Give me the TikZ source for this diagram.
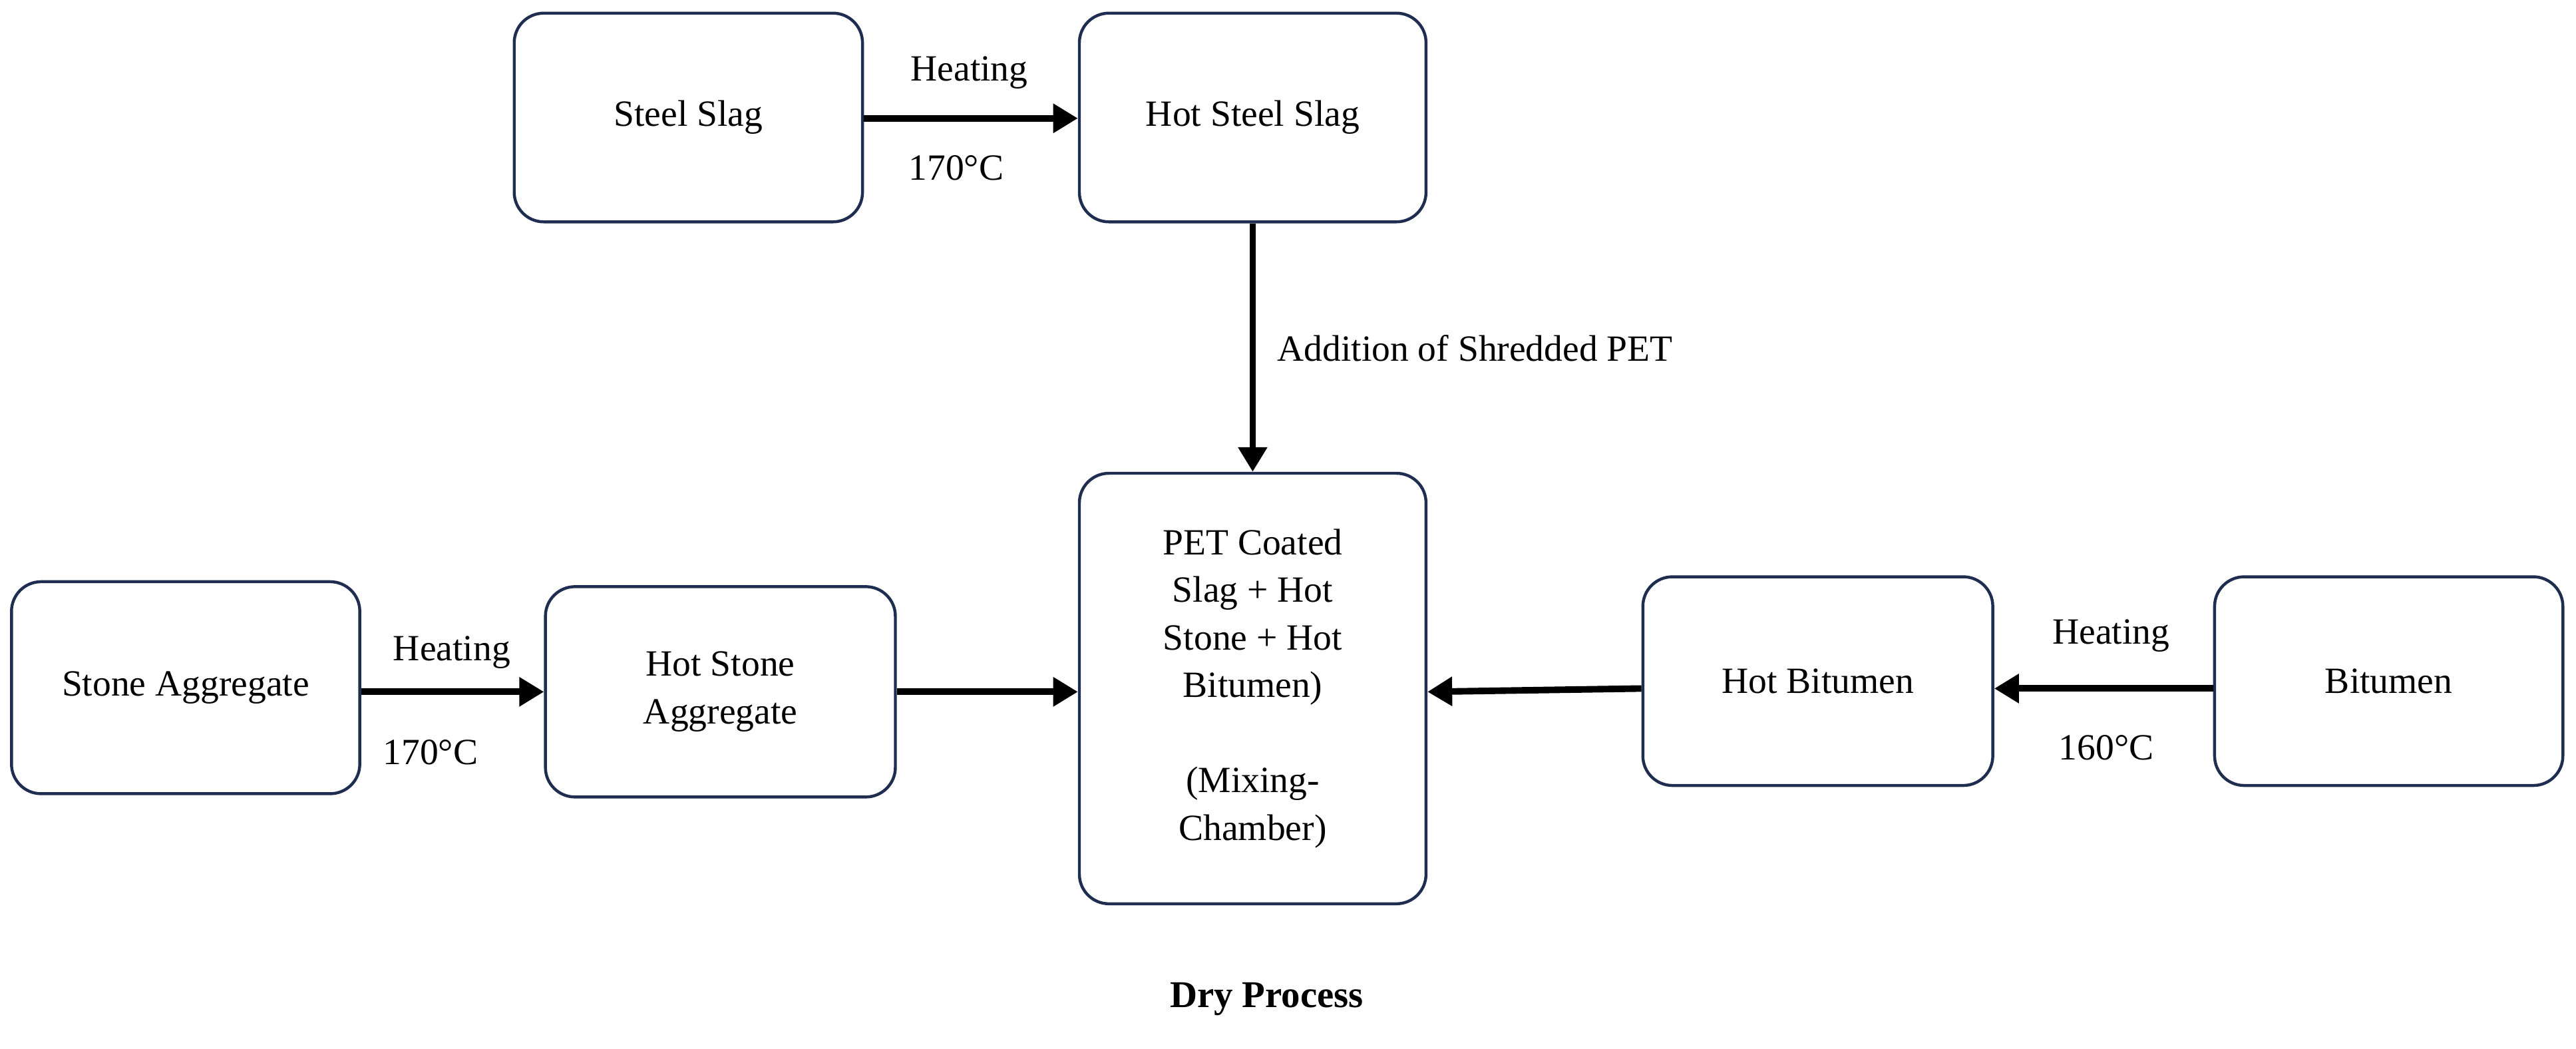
\documentclass[tikz,border=0pt]{standalone}
\usepackage{fontspec}
\setmainfont{Liberation Serif}
\usetikzlibrary{arrows.meta}
\definecolor{navy}{RGB}{31,45,80}
\begin{document}
\begin{tikzpicture}[x=1pt,y=-1pt,
  box/.style={draw=navy,line width=1.8pt,rounded corners=18pt,align=center,font=\fontsize{22.5}{29}\selectfont,inner sep=0pt},
  arr/.style={line width=4pt,-{Stealth[length=15pt,width=17pt,inset=0pt]}},
  lab/.style={font=\fontsize{22.5}{26}\selectfont}]
\useasboundingbox (0,0) rectangle (1568,638);
\node[box,minimum width=212pt,minimum height=127pt] (ss) at (419,71.5) {Steel Slag};
\node[box,minimum width=211pt,minimum height=127pt] (hss) at (762.5,71.5) {Hot Steel Slag};
\node[box,minimum width=211pt,minimum height=262pt] (mix) at (762.5,419) {PET Coated\\Slag + Hot\\Stone + Hot\\Bitumen)\\[29pt](Mixing-\\Chamber)};
\node[box,minimum width=212pt,minimum height=129pt] (sa) at (113,418.5) {Stone Aggregate};
\node[box,minimum width=213pt,minimum height=128pt] (hsa) at (438.5,421) {Hot Stone\\Aggregate};
\node[box,minimum width=213pt,minimum height=127pt] (hb) at (1106.5,414.5) {Hot Bitumen};
\node[box,minimum width=212pt,minimum height=127pt] (b) at (1454,414.5) {Bitumen};
\draw[arr] (ss.east|-0,72) -- (hss.west|-0,72);
\node[lab] (h1) at (590,44) {Heating};
\node[lab] (t1) at (582,102) {170°C};
\draw[arr] (hss.south) -- (mix.north);
\node[lab,anchor=west] (ad) at (774,212) {Addition of Shredded PET};
\draw[arr] (sa.east|-0,421) -- (hsa.west|-0,421);
\node[lab] (h2) at (275,397) {Heating};
\node[lab] (t2) at (262,458) {170°C};
\draw[arr] (hsa.east|-0,421) -- (mix.west|-0,421);
\draw[arr] (hb.west|-0,419) -- (mix.east|-0,421);
\draw[arr] (b.west|-0,419) -- (hb.east|-0,419);
\node[lab] (h3) at (1285,387) {Heating};
\node[lab] (t3) at (1282,455) {160°C};
\node[lab,font=\fontsize{23}{26}\selectfont\bfseries] (dp) at (771,608) {Dry Process};
\end{tikzpicture}
\end{document}
